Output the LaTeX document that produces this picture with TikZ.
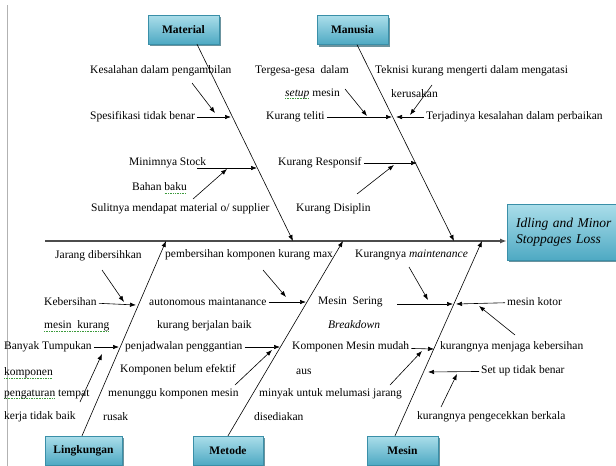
\documentclass[tikz,border=0pt]{standalone}
\usepackage{fontspec}
\setmainfont{Liberation Serif}
\usepackage{xcolor}
\usetikzlibrary{arrows.meta, shadows, positioning}

\definecolor{kotakatas}{HTML}{ABDEEA}
\definecolor{kotakbawah}{HTML}{4EA9C3}
\definecolor{kotakgaris}{HTML}{3A8FA8}
\definecolor{bayang}{HTML}{2C6575}
\definecolor{ejaanhijau}{HTML}{3C9A3C}
\newsavebox{\ejaanbox}
\newcommand{\ejaan}[1]{\sbox{\ejaanbox}{#1}\rlap{\color{ejaanhijau}\raisebox{-0.45ex}{\hbox to \wd\ejaanbox{\xleaders\hbox{\rule{0.9pt}{0.6pt}\kern0.7pt}\hfil}}}\usebox{\ejaanbox}}

\begin{document}
\begin{tikzpicture}[x=1pt, y=-1pt,
        kategori/.style={draw=kotakgaris, top color=kotakatas, bottom color=kotakbawah,
            minimum width=71pt, minimum height=29pt, font=\fontsize{11.5}{13}\selectfont\bfseries,
            drop shadow={shadow xshift=1.5pt, shadow yshift=-2pt, fill=bayang, opacity=0.7}},
        akibat/.style={kategori, font=\fontsize{13.5}{16}\selectfont\itshape, align=left,
            text width=98pt, inner xsep=9pt, minimum height=56pt},
        sebab/.style={anchor=west, inner xsep=2pt, inner ysep=1pt, font=\fontsize{11.5}{13}\selectfont},
        tulang/.style={-{Latex[length=6pt, width=4.5pt]}, line width=0.6pt},
        panah/.style={-{Latex[length=6pt, width=4.5pt]}, line width=0.6pt},
        duri/.style={-{Latex[length=7pt, width=5pt]}, line width=1.4pt, draw=black!70},
        garistepi/.style={draw=black!30, line width=0.8pt},
        ]
        \useasboundingbox (0,0) rectangle (616,466);
        \draw[garistepi] (7,5) -- (7,466);

        % 主干
        \coordinate (ekor) at (45,241);
        \node[akibat, anchor=west] (akibat) at (507,232) {Idling and Minor\\Stoppages Loss};
        \draw[duri] (ekor) -- (ekor -| akibat.west);

        % 类别
        \node[kategori] (material) at (183.5,29.5) {Material};
        \node[kategori] (manusia) at (352.5,30) {Manusia};
        \node[kategori, minimum width=77pt] (lingkungan) at (83.5,450.5) {Lingkungan};
        \node[kategori, minimum width=70pt] (metode) at (228,450.5) {Metode};
        \node[kategori] (mesin) at (402.5,450.5) {Mesin};

        \coordinate (tmaterial) at (293,241);
        \coordinate (tmanusia) at (454,241);
        \coordinate (tlingkungan) at (166,241);
        \coordinate (tmetode) at (343,241);
        \coordinate (tmesin) at (482,241);
        \draw[tulang] (material.south -| 197,0) -- (tmaterial);
        \draw[tulang] (manusia.south -| 357,0) -- (tmanusia);
        \draw[tulang] (lingkungan.north -| 82,0) -- (tlingkungan);
        \draw[tulang] (metode.north -| 228,0) -- (tmetode);
        \draw[tulang] (mesin.north -| 395,0) -- (tmesin);

        % Material
        \node[sebab] (a1) at (88,71) {Kesalahan dalam pengambilan};
        \node[sebab] (a2) at (88,117) {Spesifikasi tidak benar};
        \node[sebab] (a3) at (127,163) {Minimnya Stock};
        \node[sebab] (a4) at (130,188) {Bahan \ejaan{baku}};
        \node[sebab] (a5) at (89,209) {Sulitnya mendapat material o/ supplier};
        \coordinate (pa1) at (192,83);  \coordinate (qa1) at (215,113);
        \coordinate (qa2) at (231,117);
        \coordinate (pa3) at (197,168); \coordinate (qa3) at (257,168);
        \coordinate (pa5) at (193,199); \coordinate (qa5) at (227,169);
        \draw[panah] (pa1) -- (qa1);
        \draw[panah] (a2) -- (qa2);
        \draw[panah] (pa3) -- (qa3);
        \draw[panah] (pa5) -- (qa5);

        % Manusia
        \node[sebab] (b1) at (253,71) {Tergesa-gesa\ \ dalam};
        \node[sebab] (b2) at (283,94) {\ejaan{\textit{setup}} mesin};
        \node[sebab] (b3) at (264,117) {Kurang teliti};
        \node[sebab] (b4) at (373,71) {Teknisi kurang mengerti dalam mengatasi};
        \node[sebab] (b5) at (389,94) {kerusakan};
        \node[sebab] (b6) at (424,117) {Terjadinya kesalahan dalam perbaikan};
        \node[sebab] (b7) at (276,163) {Kurang Responsif};
        \node[sebab] (b8) at (294,209) {Kurang Disiplin};
        \coordinate (pb1) at (345,89);  \coordinate (qb1) at (367,116);
        \coordinate (qb3) at (392,117);
        \coordinate (pb4) at (432,85);  \coordinate (qb4) at (410,115);
        \coordinate (qb6) at (396,117);
        \coordinate (qb7) at (417,163);
        \coordinate (pb8) at (357,194); \coordinate (qb8) at (394,165);
        \draw[panah] (pb1) -- (qb1);
        \draw[panah] (b3) -- (qb3);
        \draw[panah] (pb4) -- (qb4);
        \draw[panah] (b6) -- (qb6);
        \draw[panah] (b7) -- (qb7);
        \draw[panah] (pb8) -- (qb8);

        % Lingkungan
        \node[sebab] (c1) at (53,256) {Jarang dibersihkan};
        \node[sebab] (c2) at (42,302) {Kebersihan};
        \node[sebab] (c3) at (42,326) {\ejaan{mesin\ \ kurang}};
        \node[sebab] (c4) at (2,347) {Banyak Tumpukan};
        \node[sebab] (c5) at (2,373) {\ejaan{komponen}};
        \node[sebab] (c6) at (2,394) {\ejaan{pengaturan} tempat};
        \node[sebab] (c7) at (2,417) {kerja tidak baik};
        \coordinate (pc1) at (102,270); \coordinate (qc1) at (124,302);
        \coordinate (qc2) at (136,305);
        \coordinate (qc4) at (119,347);
        \coordinate (pc6) at (80,402);  \coordinate (qc6) at (102,354);
        \draw[panah] (pc1) -- (qc1);
        \draw[panah] (c2) -- (qc2);
        \draw[panah] (c4) -- (qc4);
        \draw[panah] (pc6) -- (qc6);

        % Metode
        \node[sebab] (d1) at (163,255) {pembersihan komponen kurang max};
        \node[sebab] (d2) at (147,302) {autonomous maintanance};
        \node[sebab] (d3) at (155,326) {kurang berjalan baik};
        \node[sebab] (d4) at (123,347) {penjadwalan penggantian};
        \node[sebab] (d5) at (118,370) {Komponen belum efektif};
        \node[sebab] (d6) at (106,394) {menunggu komponen mesin};
        \node[sebab] (d7) at (101,417) {rusak};
        \coordinate (pd1) at (263,270); \coordinate (qd1) at (286,297);
        \coordinate (qd2) at (306,302);
        \coordinate (qd4) at (280,347);
        \coordinate (pd5) at (235,385); \coordinate (qd5) at (272,350);
        \draw[panah] (pd1) -- (qd1);
        \draw[panah] (d2) -- (qd2);
        \draw[panah] (d4) -- (qd4);
        \draw[panah] (pd5) -- (qd5);

        % Mesin
        \node[sebab] (e1) at (353,255) {Kurangnya \textit{maintenance}};
        \node[sebab] (e2) at (316,302) {Mesin\ \ Sering};
        \node[sebab] (e3) at (326,325) {\textit{Breakdown}};
        \node[sebab] (e4) at (290,347) {Komponen Mesin mudah};
        \node[sebab] (e5) at (294,372) {aus};
        \node[sebab] (e6) at (257,394) {minyak untuk melumasi jarang};
        \node[sebab] (e7) at (252,417) {disediakan};
        \node[sebab] (e8) at (505,302) {mesin kotor};
        \node[sebab] (e9) at (438,347) {kurangnya menjaga kebersihan};
        \node[sebab] (e10) at (479,371) {Set up tidak benar};
        \node[sebab] (e11) at (415,417) {kurangnya pengecekkan berkala};
        \coordinate (pe1) at (409,267);  \coordinate (qe1) at (428,300);
        \coordinate (pe2) at (397,304);  \coordinate (qe2) at (453,304);
        \coordinate (qe8) at (456,304);
        \coordinate (pe9) at (515,335);  \coordinate (qe9) at (479,306);
        \coordinate (qe4) at (434,349);
        \coordinate (pe6) at (390,385);  \coordinate (qe6) at (422,351);
        \coordinate (qe10) at (428,372);
        \coordinate (pe11) at (441,407); \coordinate (qe11) at (457,374);
        \draw[panah] (pe1) -- (qe1);
        \draw[panah] (pe2) -- (qe2);
        \draw[panah] (e8) -- (qe8);
        \draw[panah] (pe9) -- (qe9);
        \draw[panah] (e4) -- (qe4);
        \draw[panah] (pe6) -- (qe6);
        \draw[panah] (e10) -- (qe10);
        \draw[panah] (pe11) -- (qe11);

        \end{tikzpicture}
\end{document}
